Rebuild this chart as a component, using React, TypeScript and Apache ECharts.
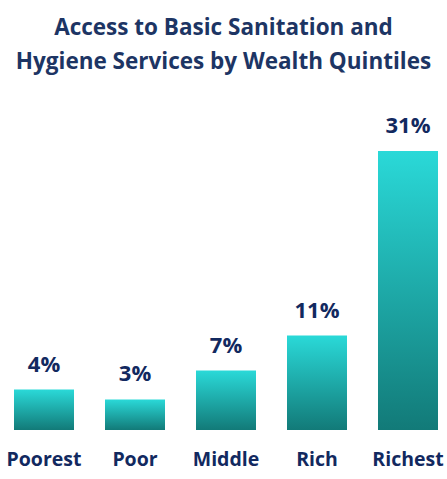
import React, { useEffect, useRef } from "react";
import * as echarts from "echarts";

const titleLines = ["Access to Basic Sanitation and", "Hygiene Services by Wealth Quintiles"];
const categories = ["Poorest", "Poor", "Middle", "Rich", "Richest"];
const values = [4.5, 3.4, 6.6, 10.5, 31];
const valueLabels = ["4%", "3%", "7%", "11%", "31%"];

const FONT = "Open Sans";
const NAVY = "#12295f";

export default function App() {
  const ref = useRef<HTMLDivElement>(null);
  useEffect(() => {
    if (!ref.current) return;
    const chart = echarts.init(ref.current, undefined, { renderer: "svg" });
    chart.setOption({
      animation: false,
      backgroundColor: "#ffffff",
      title: {
        text: titleLines.join("\n"),
        left: "center",
        top: 5,
        textStyle: {
          fontFamily: FONT,
          fontWeight: "bold",
          fontSize: 22.5,
          lineHeight: 33.5,
          color: "#1d3564",
        },
      },
      grid: {
        left: -1.5,
        width: 455,
        top: 115,
        bottom: 49,
        outerBoundsMode: "none",
        containLabel: false,
      },
      xAxis: {
        type: "category",
        data: categories,
        axisLine: { show: false },
        axisTick: { show: false },
        axisLabel: {
          interval: 0,
          hideOverlap: false,
          margin: 18,
          fontFamily: FONT,
          fontWeight: "bold",
          fontSize: 19.5,
          color: NAVY,
        },
      },
      yAxis: {
        type: "value",
        min: 0,
        max: 35,
        show: false,
        splitLine: { show: false },
      },
      series: [
        {
          type: "bar",
          data: values,
          barWidth: 60,
          itemStyle: {
            color: new echarts.graphic.LinearGradient(0, 0, 0, 1, [
              { offset: 0, color: "#2ad9d8" },
              { offset: 1, color: "#127a78" },
            ]),
          },
          label: {
            show: true,
            position: "top",
            distance: 16,
            formatter: (p: any) => valueLabels[p.dataIndex],
            fontFamily: FONT,
            fontWeight: "bold",
            fontSize: 22,
            color: NAVY,
          },
        },
      ],
    });
    return () => chart.dispose();
  }, []);
  return (
    <div
      ref={ref}
      style={{ position: "fixed", left: 0, top: 0, width: 447, height: 479 }}
    />
  );
}
